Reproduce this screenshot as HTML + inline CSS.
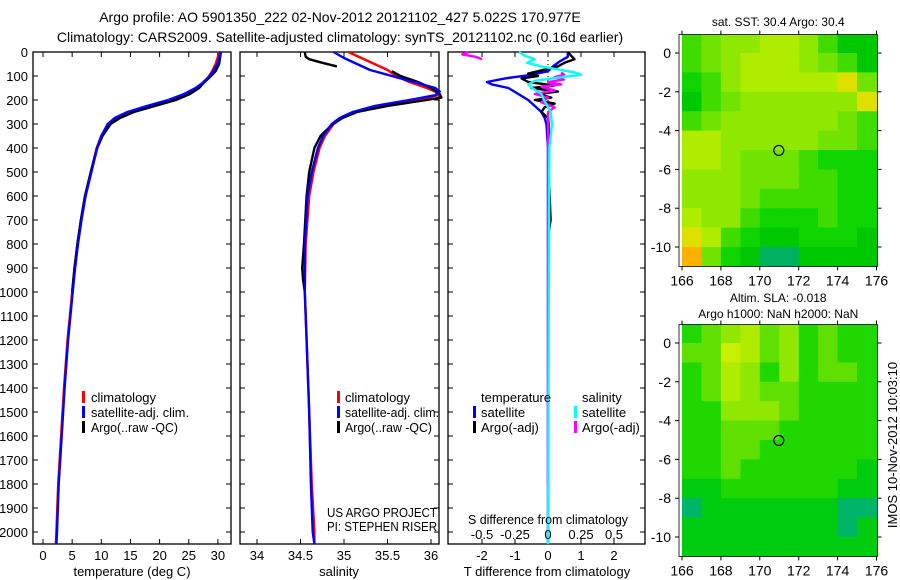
<!DOCTYPE html>
<html><head><meta charset="utf-8"><style>
body{margin:0;background:#fff;}
svg{display:block;font-family:"Liberation Sans",sans-serif;}
text{fill:#000;}
</style></head><body>
<svg id="c" width="900" height="580" viewBox="0 0 900 580">
<text x="340" y="22" font-size="14" text-anchor="middle">Argo profile: AO 5901350_222 02-Nov-2012 20121102_427 5.022S 170.977E</text>
<text x="340" y="42" font-size="14" text-anchor="middle">Climatology: CARS2009. Satellite-adjusted climatology: synTS_20121102.nc (0.16d earlier)</text>
</svg>
<script>
// ---------- data ----------
const depthTicks=[0,100,200,300,400,500,600,700,800,900,1000,1100,1200,1300,1400,1500,1600,1700,1800,1900,2000];
const tTicks=[0,5,10,15,20,25,30];
const sTicks=[34,34.5,35,35.5,36];
const sTickLabels=["34","34.5","35","35.5","36"];
const dTTicks=[-2,-1,0,1,2];
const dSTicks=[-0.5,-0.25,0,0.25,0.5];
const dSTickLabels=["-0.5","-0.25","0","0.25","0.5"];
const lonTicks=[166,168,170,172,174,176];
const latTicks=[0,-2,-4,-6,-8,-10];

const depthT=[0,20,50,80,100,130,150,175,200,225,250,275,300,350,400,500,600,700,800,900,1000,1200,1400,1600,1800,2000,2050];
const tClim=[30.1,30.0,29.6,29.0,28.5,27.5,26.6,24.8,22.2,18.5,15,12.5,11.2,10.0,9.2,8.2,7.2,6.5,5.9,5.4,5.0,4.2,3.6,3.1,2.6,2.3,2.2];
const tSat=[30.4,30.3,29.9,29.2,28.6,27.3,26.2,24.2,21.5,17.8,14.5,12.3,11.1,10.0,9.3,8.3,7.3,6.6,6.0,5.5,5.1,4.3,3.7,3.2,2.7,2.4,2.3];
const depthTArgo=[0,20,50,80,100,130,150,175,200,225,250,275,300,350,400,500,600,700,800,900,1000];
const tArgo=[30.5,30.4,30.2,29.6,28.8,27.5,26.8,25.2,22.8,19.2,15.6,13.2,11.6,10.2,9.3,8.2,7.2,6.5,5.9,5.4,5.0];

const depthS=[0,25,50,75,100,125,150,165,180,200,225,250,275,300,350,400,500,600,800,1000,1200,1500,1800,2000,2050];
const sClim=[35.05,35.2,35.35,35.5,35.6,35.75,35.95,36.05,36.08,35.85,35.45,35.15,34.98,34.88,34.78,34.72,34.65,34.6,34.56,34.55,34.57,34.6,34.63,34.66,34.66];
const sSat=[34.88,35.0,35.15,35.3,35.55,35.8,36.05,36.1,36.05,35.75,35.35,35.1,34.95,34.86,34.76,34.7,34.63,34.58,34.55,34.55,34.57,34.6,34.62,34.64,34.66];
const depthSArgo1=[0,20,30,45,60];
const sArgo1=[34.55,34.56,34.6,34.75,34.92];
const depthSArgo2=[80,100,125,150,175,190,200,225,250,275,300,350,400,500,600,800,900,950,1000];
const sArgo2=[35.55,35.65,35.85,36.0,36.1,36.12,35.95,35.5,35.15,34.98,34.87,34.73,34.66,34.6,34.57,34.54,34.52,34.53,34.55];

const depthDT=[0,20,40,60,80,95,110,125,135,150,175,200,225,250,275,300,400,1000,2050];
const dTSat=[0.6,0.6,0.35,0.15,0.0,-0.5,-1.3,-1.85,-1.7,-1.2,-0.9,-0.6,-0.4,-0.2,-0.1,-0.05,0,0,0];
const depthDTArgo=[0,30,45,60,80,90,100,110,125,140,150,165,175,190,200,215,230,250,275,300,500,700,750,1000];
const dTArgo=[0.6,0.8,0.5,0.3,-0.3,-0.6,-0.3,-0.8,-0.6,0.2,-0.5,0.3,-0.3,0.1,-0.4,0.2,-0.1,-0.2,0,0.02,0.02,0.08,0.02,0.02];
const depthDS=[0,15,30,45,60,70,85,95,105,120,135,150,175,200,250,300,400,2050];
const dSSat=[-0.22,-0.18,-0.1,-0.16,-0.05,0.05,0.2,0.25,0.1,-0.1,-0.15,-0.12,-0.05,-0.03,0.02,0.03,0.01,0];
const depthDSArgo1=[0,10,20,30];
const dSArgo1=[-0.6,-0.65,-0.55,-0.5];
const depthDSArgo2=[85,95,105,115,125,135,145,160,175,190,210,230,250,300,400,600,1800];
const dSArgo2=[0.1,0.12,0.05,0.12,0.0,0.1,-0.05,0.05,-0.1,0.0,-0.05,0.05,0.0,0.0,0.0,0.0,0.0];

const sstGrid=[
[3,4,5,5,6,6,5,3,1,1],
[3,4,5,6,6,6,5,4,3,1],
[2,3,5,6,6,6,6,6,7,4],
[1,3,4,5,5,5,5,5,5,7],
[3,4,5,5,5,5,5,5,4,3],
[6,6,5,5,5,5,5,4,4,3],
[6,6,5,4,4,4,3,2,2,2],
[5,5,5,4,4,4,3,3,2,2],
[5,5,5,4,3,3,3,3,2,2],
[6,5,5,3,2,2,2,3,2,2],
[7,6,3,2,1,1,2,2,2,1],
[8,4,2,1,0,0,1,1,1,1]];
const slaGrid=[
[2,3,4,5,3,4,2,3,2,2],
[3,3,6,5,3,4,2,3,2,2],
[2,3,5,4,2,4,2,3,3,2],
[2,3,5,4,3,3,2,2,2,2],
[2,2,4,4,4,3,2,2,2,2],
[2,2,3,3,3,2,2,2,2,2],
[2,2,3,3,2,2,2,2,2,2],
[2,2,3,2,2,2,2,2,2,1],
[1,1,2,2,2,2,2,2,1,1],
[0,1,1,1,1,1,1,1,0,0],
[1,1,1,1,1,1,1,1,0,1],
[1,1,1,1,1,1,1,1,1,1]];
const argoLon=170.977, argoLat=-5.022;

// ---------- drawing ----------
const svg=document.getElementById('c');
const NS='http://www.w3.org/2000/svg';
function mk(tag,attrs,parent){const e=document.createElementNS(NS,tag);for(const k in attrs)e.setAttribute(k,attrs[k]);(parent||svg).appendChild(e);return e;}
const top0=52,bot=544;
const yD=d=>top0+d*0.24;
const P1={l:33,r:231},P2={l:240,r:439},P3={l:448,r:645};
const xT=v=>43+v*5.83;
const xS=v=>257+(v-34)*87;
const xDT=v=>548+v*33;
const xDS=v=>548+v*132;

function panel(P,name){
  const r=mk('rect',{x:P.l,y:top0,width:P.r-P.l,height:bot-top0,fill:'none',stroke:'#000','stroke-width':1.3});
  
  
  depthTicks.forEach(d=>{
    mk('line',{x1:P.l,x2:P.l+5,y1:yD(d),y2:yD(d),stroke:'#000'});
    mk('line',{x1:P.r-5,x2:P.r,y1:yD(d),y2:yD(d),stroke:'#000'});
  });
}
function xticks(vals,labels,fx,tag){
  vals.forEach((v,i)=>{
    const x=fx(v);
    mk('line',{x1:x,x2:x,y1:bot,y2:bot-5,stroke:'#000'});
    mk('line',{x1:x,x2:x,y1:top0,y2:top0+5,stroke:'#000'});
    const t=mk('text',{x:x,y:560,'font-size':13,'text-anchor':'middle'});t.textContent=labels[i];
    
    
  });
}
function line(ds,vs,fx,color,name,w){
  const pts=ds.map((d,i)=>fx(vs[i]).toFixed(1)+','+yD(d).toFixed(1)).join(' ');
  const p=mk('polyline',{points:pts,fill:'none',stroke:color,'stroke-width':w||2.4,'stroke-linejoin':'round'});
  
  
}
function txt(x,y,s,name,size,anchor,len){
  const a={x:x,y:y,'font-size':size||13,'text-anchor':anchor||'start'};
  if(len){a.textLength=len;a.lengthAdjust='spacingAndGlyphs';}
  const t=mk('text',a);t.textContent=s;
  
  
  return t;
}
function legMark(x,y,color){mk('rect',{x:x,y:y-11,width:3,height:12,fill:color});}

depthTicks.forEach(d=>{txt(28,yD(d)+5,String(d),'depth-tick-label',13,'end');});

// panel 1
panel(P1,'temperature-panel');
xticks(tTicks,tTicks.map(String),xT,'temperature');
line(depthT,tClim,xT,'#f00','temperature-climatology');
line(depthTArgo,tArgo,xT,'#000','temperature-argo');
line(depthT,tSat,xT,'#00f','temperature-satellite-adj');
txt(132,576,'temperature (deg C)','temperature-axis-title',13,'middle');
legMark(82,402,'#f00');txt(91,402,'climatology','legend-climatology');
legMark(82,417,'#00f');txt(91,417,'satellite-adj. clim.','legend-satellite-adj',13,'start',98);
legMark(82,432,'#000');txt(91,432,'Argo(..raw -QC)','legend-argo',13,'start',87);

// panel 2
panel(P2,'salinity-panel');
xticks(sTicks,sTickLabels,xS,'salinity');
line(depthS,sClim,xS,'#f00','salinity-climatology');
line(depthSArgo1,sArgo1,xS,'#000','salinity-argo-upper');
line(depthSArgo2,sArgo2,xS,'#000','salinity-argo');
line(depthS,sSat,xS,'#00f','salinity-satellite-adj');
txt(339,576,'salinity','salinity-axis-title',13,'middle');
legMark(337,402,'#f00');txt(345,402,'climatology','legend-climatology-2');
legMark(337,417,'#00f');txt(345,417,'satellite-adj. clim.','legend-satellite-adj-2',13,'start',94);
legMark(337,432,'#000');txt(345,432,'Argo(..raw -QC)','legend-argo-2',13,'start',87);
txt(327,517,'US ARGO PROJECT','project-note',13,'start',110);
txt(327,531,'PI: STEPHEN RISER','pi-note',13,'start',110);

// panel 3
panel(P3,'difference-panel');
mk('line',{x1:548,x2:548,y1:top0,y2:bot,stroke:'#000','stroke-dasharray':'1,3'});
xticks(dTTicks,dTTicks.map(String),xDT,'t-difference');
line(depthDT,dTSat,xDT,'#00f','t-diff-satellite');
line(depthDTArgo,dTArgo,xDT,'#000','t-diff-argo');
line(depthDSArgo1,dSArgo1,xDS,'#f0f','s-diff-argo-upper');
line(depthDSArgo2,dSArgo2,xDS,'#f0f','s-diff-argo');
line(depthDS,dSSat,xDS,'#0ff','s-diff-satellite');
dSTicks.forEach((v,i)=>{txt(xDS(v),539,dSTickLabels[i],'s-difference-tick-label',13,'middle');});
txt(548,524,'S difference from climatology','s-difference-title',13,'middle',160);
txt(547,576,'T difference from climatology','t-difference-axis-title',13,'middle');
txt(481,402,'temperature','legend-temperature-header');
legMark(473,417,'#00f');txt(481,417,'satellite','legend-t-satellite');
legMark(473,432,'#000');txt(481,432,'Argo(-adj)','legend-t-argo');
txt(582,402,'salinity','legend-salinity-header');
legMark(574,417,'#0ff');txt(582,417,'satellite','legend-s-satellite');
legMark(574,432,'#f0f');txt(582,432,'Argo(-adj)','legend-s-argo');

// maps
const sstColors=['#00b060','#00c800','#10d400','#40dc00','#70e400','#90e800','#b0ec00','#e0e000','#ffb000'];
const slaColors=['#00b468','#00cc10','#20d800','#60e000','#90e800','#b0ec00','#c8f000'];
function map(grid,colors,M,name,titles){
  const g=mk('g',{});
  
  
  const xL=lon=>M.x0+(lon-166)*19.45;
  const yL=lat=>M.y0-lat*19.4;
  grid.forEach((row,ri)=>row.forEach((v,ci)=>{
    const x=xL(166+ci),y=yL(1-ri);
    const c=mk('rect',{x:x.toFixed(1),y:y.toFixed(1),width:20,height:20,fill:colors[v]},g);
    
    
  }));
  const L=xL(166)-3,R=xL(176)+1,T=yL(0.95),B=yL(-11);
  mk('rect',{x:L-30,y:T-18,width:R-L+60,height:18,fill:'#fff'},g);
  mk('rect',{x:L-30,y:B,width:R-L+60,height:8,fill:'#fff'},g);
  mk('rect',{x:R,y:T-18,width:20,height:B-T+26,fill:'#fff'},g);
  mk('rect',{x:L,y:T,width:R-L,height:B-T,fill:'none',stroke:'#000','stroke-width':0.8},g);
  lonTicks.forEach(v=>{const x=xL(v);
    mk('line',{x1:x,x2:x,y1:T,y2:T-4,stroke:'#000'},g);mk('line',{x1:x,x2:x,y1:B,y2:B+4,stroke:'#000'},g);
    txt(x,B+19,String(v),'longitude-tick-label',14,'middle');});
  latTicks.forEach(v=>{const y=yL(v);
    mk('line',{x1:L,x2:L-4,y1:y,y2:y,stroke:'#000'},g);mk('line',{x1:R,x2:R+4,y1:y,y2:y,stroke:'#000'},g);
    txt(L-8,y+5,String(v),'latitude-tick-label',14,'end');});
  mk('circle',{cx:xL(argoLon),cy:yL(argoLat),r:5,fill:'none',stroke:'#000','stroke-width':1.2},g);
  titles.forEach((s,i)=>txt((L+R)/2,M.tY+i*16,s,'map-title',12,'middle'));
}
map(sstGrid,sstColors,{x0:682,y0:53,tY:26},'sst-map',['sat. SST: 30.4 Argo: 30.4']);
map(slaGrid,slaColors,{x0:682,y0:343,tY:302},'sla-map',['Altim. SLA: -0.018','Argo h1000: NaN h2000: NaN']);
const im=txt(897,445,'IMOS 10-Nov-2012 10:03:10','imos-timestamp',13,'middle');
im.setAttribute('transform','rotate(-90 897 445)');
</script>
</body></html>
